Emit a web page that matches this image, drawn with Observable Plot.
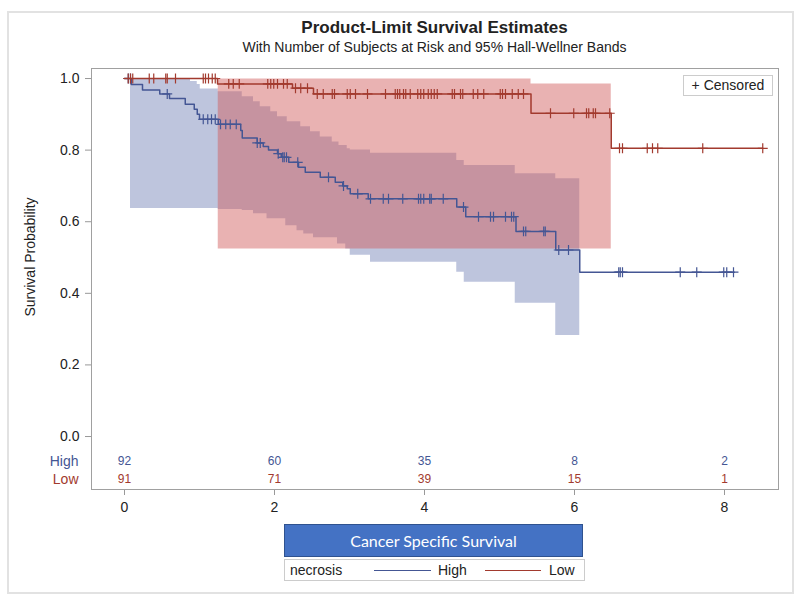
<!DOCTYPE html>
<html><head><meta charset="utf-8">
<script src="https://cdn.jsdelivr.net/npm/d3@7"></script>
<script src="https://cdn.jsdelivr.net/npm/@observablehq/plot@0.6"></script>
<style>
body{margin:0;background:#fff;}
#wrap{position:relative;width:800px;height:603px;overflow:hidden;font-family:"Liberation Sans",Arial,sans-serif;color:#222;}
#border{position:absolute;left:7px;top:11px;width:783px;height:579px;border:2px solid #e2e2e2;}
#chart{position:absolute;left:0;top:0;}
.abs{position:absolute;white-space:nowrap;}
#title{left:0;width:869px;top:18px;text-align:center;font-weight:bold;font-size:17px;}
#subtitle{left:0;width:869px;top:39px;text-align:center;font-size:14px;}
#ylab{left:30px;top:257px;transform:translate(-50%,-50%) rotate(-90deg);font-size:14px;}
#cens{left:683px;top:75px;width:88px;height:19px;border:1px solid #ccc;background:#fff;font-size:14px;line-height:19px;text-align:center;}
#bluebox{left:284px;top:524px;width:297px;height:31px;background:#4472C4;border:1px solid #2F528F;color:#fff;font-family:Lato,"Open Sans",sans-serif;font-size:16px;line-height:31px;text-align:center;}
#legend{left:284px;top:559px;width:299px;height:20px;border:1px solid #ccc;font-size:14px;line-height:20px;}
#legend span{position:absolute;top:0;}
#legend i{position:absolute;top:10px;height:0;border-top:1.5px solid;}
</style></head><body><div id="wrap">
<div id="border"></div>
<div id="chart"></div>
<div class="abs" id="title">Product-Limit Survival Estimates</div>
<div class="abs" id="subtitle">With Number of Subjects at Risk and 95% Hall-Wellner Bands</div>
<div class="abs" id="ylab">Survival Probability</div>
<div class="abs" id="cens">+ Censored</div>
<div class="abs" id="bluebox">Cancer Specific Survival</div>
<div class="abs" id="legend">
  <span style="left:5px">necrosis</span>
  <i style="left:89px;width:57px;border-color:#445694"></i>
  <span style="left:153px">High</span>
  <i style="left:200px;width:56px;border-color:#A23A2E"></i>
  <span style="left:264px">Low</span>
</div>
</div>
<script>
// Kaplan-Meier step curves (time in years, survival probability)
const highTimes = [0, 0.09, 0.24, 0.47, 0.6, 0.81, 0.93, 0.97, 1.0, 1.25, 1.55, 1.57, 1.77, 1.85, 1.92, 2.04, 2.09, 2.19, 2.32, 2.41, 2.61, 2.81, 2.91, 2.97, 3.01, 3.25, 4.43, 4.55, 5.22, 5.75, 6.07, 8.13];
const highSurv  = [1, 0.983, 0.968, 0.957, 0.944, 0.928, 0.914, 0.900, 0.886, 0.872, 0.855, 0.834, 0.82, 0.81, 0.80, 0.79, 0.78, 0.766, 0.752, 0.738, 0.724, 0.71, 0.70, 0.692, 0.678, 0.664, 0.641, 0.614, 0.573, 0.521, 0.459, 0.459];
const lowTimes = [0, 1.24, 2.24, 2.52, 5.42, 6.49, 8.51];
const lowSurv  = [1, 0.985, 0.973, 0.957, 0.903, 0.805, 0.805];

// censored observation times
const highCensored = [0.05, 0.08, 0.57, 1.05, 1.11, 1.16, 1.21, 1.28, 1.35, 1.41, 1.49, 1.77, 1.81, 2.05, 2.11, 2.13, 2.16, 2.31, 2.72, 2.92, 3.11, 3.28, 3.45, 3.52, 3.71, 3.92, 3.95, 3.99, 4.07, 4.09, 4.25, 4.52, 4.72, 4.88, 4.92, 5.08, 5.16, 5.19, 5.32, 5.35, 5.59, 5.61, 5.79, 5.92, 6.59, 6.61, 6.64, 7.41, 7.63, 7.99, 8.03, 8.12];
const lowCensored = [0.05, 0.08, 0.11, 0.33, 0.39, 0.55, 0.57, 0.68, 1.05, 1.08, 1.12, 1.17, 1.21, 1.39, 1.45, 1.53, 1.91, 1.95, 1.99, 2.04, 2.12, 2.17, 2.28, 2.35, 2.44, 2.57, 2.65, 2.77, 2.80, 2.97, 3.01, 3.08, 3.24, 3.48, 3.61, 3.64, 3.67, 3.72, 3.75, 3.81, 3.91, 3.95, 3.99, 4.05, 4.09, 4.13, 4.17, 4.37, 4.40, 4.48, 4.51, 4.65, 4.71, 4.79, 5.01, 5.04, 5.08, 5.17, 5.25, 5.32, 5.68, 5.99, 6.16, 6.19, 6.25, 6.28, 6.47, 6.60, 6.64, 6.97, 7.04, 7.11, 7.71, 8.51];

// 95% Hall-Wellner bands
const highBandTimes = [0.08, 0.88, 0.97, 1.01, 1.25, 1.57, 1.72, 1.81, 1.90, 1.95, 2.04, 2.15, 2.17, 2.30, 2.35, 2.39, 2.48, 2.52, 2.61, 2.77, 2.84, 2.86, 2.95, 2.97, 3.01, 3.28, 4.43, 4.53, 5.21, 5.75, 6.07];
const highBandLower = [0.637, 0.637, 0.637, 0.637, 0.634, 0.631, 0.622, 0.622, 0.608, 0.608, 0.608, 0.589, 0.589, 0.575, 0.575, 0.566, 0.566, 0.555, 0.555, 0.555, 0.538, 0.538, 0.524, 0.524, 0.506, 0.487, 0.459, 0.431, 0.372, 0.282, 0.282];
const highBandUpper = [1.0, 0.992, 0.983, 0.971, 0.963, 0.949, 0.935, 0.921, 0.921, 0.907, 0.893, 0.893, 0.879, 0.879, 0.865, 0.865, 0.851, 0.851, 0.837, 0.823, 0.823, 0.813, 0.813, 0.804, 0.800, 0.791, 0.771, 0.757, 0.734, 0.720, 0.720];
const lowBandTimes = [1.25, 5.42, 6.49];
const lowBandLower = [0.524, 0.524, 0.524];
const lowBandUpper = [0.999, 0.985, 0.985];

// number at risk
const riskTimes = [0, 2, 4, 6, 8];
const highRisk = [92, 60, 35, 8, 2];
const lowRisk = [91, 71, 39, 15, 1];

const xTicks = [0, 2, 4, 6, 8];
const yTicks = [0, 0.2, 0.4, 0.6, 0.8, 1.0];

const BLUE = "#445694", RED = "#A23A2E";

function stepAt(times, surv, t) {
  let v = surv[0];
  for (let i = 0; i < times.length; i++) if (times[i] <= t + 1e-9) v = surv[i];
  return v;
}
const highLine = highTimes.map((t, i) => ({t, s: highSurv[i]}));
const lowLine = lowTimes.map((t, i) => ({t, s: lowSurv[i]}));
const highCens = highCensored.map(t => ({t, s: stepAt(highTimes, highSurv, t)}));
const lowCens = lowCensored.map(t => ({t, s: stepAt(lowTimes, lowSurv, t)}));
const highBand = highBandTimes.map((t, i) => ({t, lo: highBandLower[i], hi: highBandUpper[i]}));
const lowBand = lowBandTimes.map((t, i) => ({t, lo: lowBandLower[i], hi: lowBandUpper[i]}));
const risk = riskTimes.map((t, i) => ({t, high: highRisk[i], low: lowRisk[i]}));

const FONT = '"Liberation Sans",Arial,sans-serif';

const chart = Plot.plot({
  width: 800, height: 520,
  marginLeft: 91, marginRight: 22, marginTop: 68, marginBottom: 31,
  style: {fontFamily: FONT, fontSize: "14px", color: "#222", background: "transparent"},
  x: {domain: [-0.44, 8.72]},
  y: {domain: [-0.148, 1.028]},
  marks: [
    Plot.areaY(highBand, {x: "t", y1: "lo", y2: "hi", curve: "step-after", fill: "#6F7EB3", fillOpacity: 0.45}),
    Plot.areaY(lowBand, {x: "t", y1: "lo", y2: "hi", curve: "step-after", fill: "#D05B5B", fillOpacity: 0.47}),
    Plot.line(highLine, {x: "t", y: "s", curve: "step-after", stroke: BLUE, strokeWidth: 1.5}),
    Plot.line(lowLine, {x: "t", y: "s", curve: "step-after", stroke: RED, strokeWidth: 1.5}),
    Plot.dot(highCens, {x: "t", y: "s", symbol: "plus", r: 3.3, stroke: BLUE, strokeWidth: 1.2}),
    Plot.dot(lowCens, {x: "t", y: "s", symbol: "plus", r: 3.3, stroke: RED, strokeWidth: 1.2}),
    Plot.text(risk, {x: "t", text: "high", frameAnchor: "bottom", lineAnchor: "middle", dy: -28, fill: BLUE, fontSize: 12}),
    Plot.text(risk, {x: "t", text: "low", frameAnchor: "bottom", lineAnchor: "middle", dy: -10, fill: RED, fontSize: 12}),
    Plot.text(["High"], {text: d => d, frameAnchor: "bottom-left", lineAnchor: "middle", dx: -13, dy: -28, textAnchor: "end", fill: BLUE, fontSize: 14}),
    Plot.text(["Low"], {text: d => d, frameAnchor: "bottom-left", lineAnchor: "middle", dx: -13, dy: -10, textAnchor: "end", fill: RED, fontSize: 14}),
    Plot.axisX({ticks: xTicks, tickSize: 6, tickPadding: 7, stroke: "#999", fill: "#222", label: null, fontSize: 14}),
    Plot.axisY({ticks: yTicks, tickSize: 6, tickPadding: 6, tickFormat: d3.format(".1f"), stroke: "#999", fill: "#222", label: null, fontSize: 14}),
    Plot.frame({stroke: "#a0a0a0"})
  ]
});
document.getElementById("chart").appendChild(chart);
</script>
</body></html>
